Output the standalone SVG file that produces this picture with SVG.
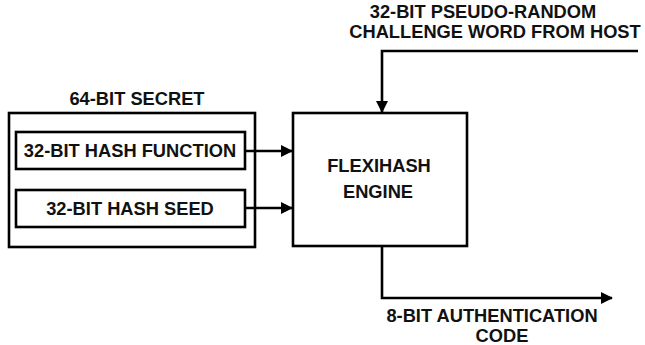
<svg xmlns="http://www.w3.org/2000/svg" width="645" height="345" viewBox="0 0 645 345">
<defs>
<style>
text{font-family:"Liberation Sans",Arial,sans-serif;font-weight:bold;font-size:18.3px;fill:#111;text-anchor:middle}
.box{fill:#fff;stroke:#000;stroke-width:2.6}
.ln{fill:none;stroke:#000;stroke-width:2.6}
</style>
<marker id="ah" markerWidth="12" markerHeight="12" refX="11" refY="6" orient="auto" markerUnits="userSpaceOnUse">
<path d="M0,0 L12,6 L0,12 Z" fill="#000"/>
</marker>
</defs>
<rect width="645" height="345" fill="#fff"/>
<g id="secret">
<rect class="box" x="9" y="113" width="246" height="134"/>
<text x="137" y="105">64-BIT SECRET</text>
</g>
<g id="hashfunc">
<rect class="box" x="16" y="132" width="229" height="37"/>
<text x="130" y="157">32-BIT HASH FUNCTION</text>
</g>
<g id="hashseed">
<rect class="box" x="16" y="190" width="229" height="37"/>
<text x="130" y="215">32-BIT HASH SEED</text>
</g>
<g id="engine">
<rect class="box" x="293" y="113" width="174" height="133"/>
<text x="379" y="172">FLEXIHASH</text>
<text x="378" y="198">ENGINE</text>
</g>
<g id="challenge">
<text x="483" y="18">32-BIT PSEUDO-RANDOM</text>
<text x="495" y="38">CHALLENGE WORD FROM HOST</text>
</g>
<g id="authcode">
<text x="492" y="322">8-BIT AUTHENTICATION</text>
<text x="502" y="342">CODE</text>
</g>
<g id="connectors">
<path class="ln" d="M245,151 H292" marker-end="url(#ah)"/>
<path class="ln" d="M245,208 H292" marker-end="url(#ah)"/>
<path class="ln" d="M638,51 H382 V112" marker-end="url(#ah)"/>
<path class="ln" d="M382,246 V298 H612" marker-end="url(#ah)"/>
</g>
</svg>
